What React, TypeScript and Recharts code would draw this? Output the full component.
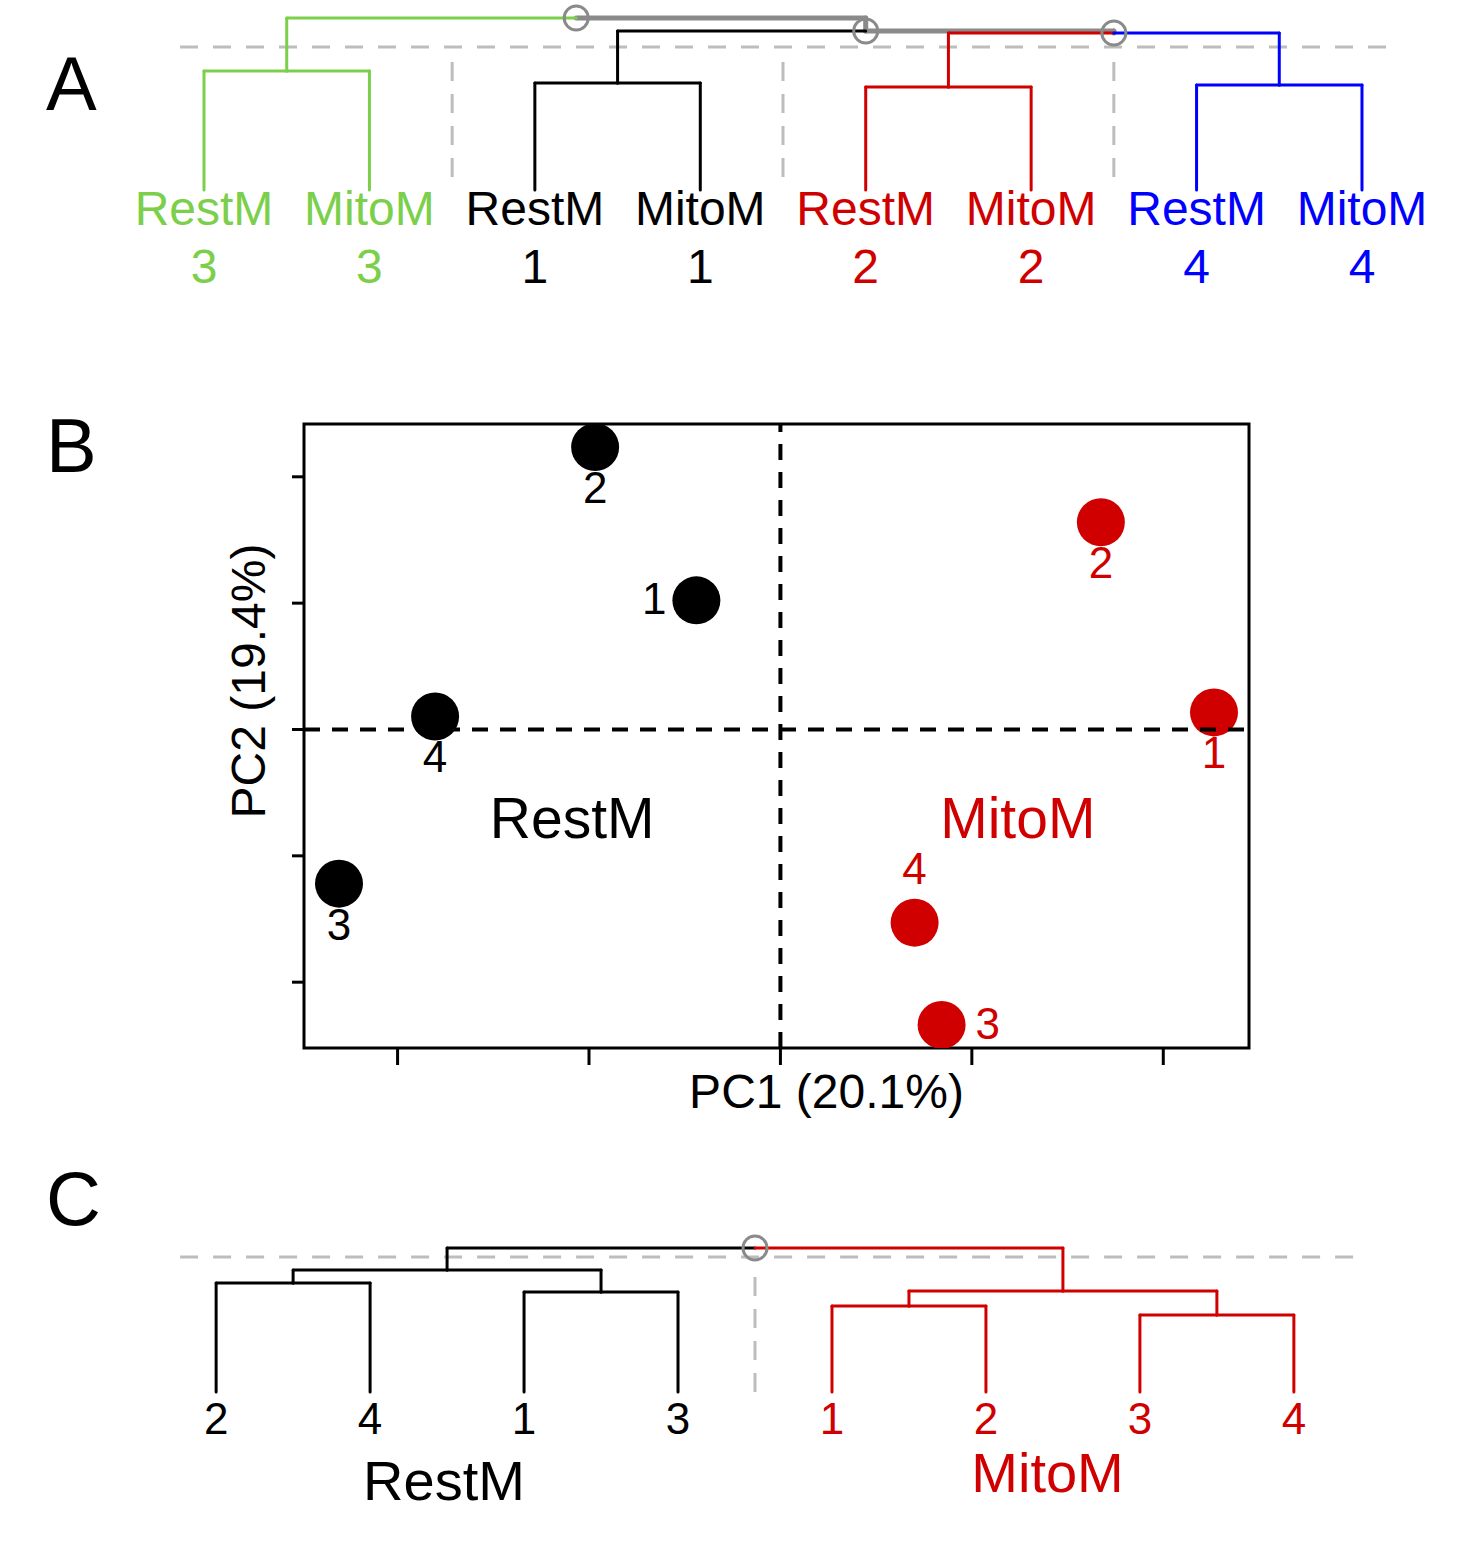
import React from "react";
import {
  ComposedChart,
  XAxis,
  YAxis,
  Scatter,
  ReferenceLine,
  ReferenceDot,
  ReferenceArea,
  Label,
} from "recharts";

const FONT = "'Liberation Sans', Arial, Helvetica, sans-serif";
const GRAY = "#8a8a8a";
const CUT_GRAY = "#bdbdbd";
const RED = "#d00000";

// replicate colours 1..4
const repColors = ["#000000", RED, "#7ccf4a", "#0000ff"];

// ---- A: clustering of all eight samples (leaves left to right)
const leafTypeA = ["RestM", "MitoM", "RestM", "MitoM", "RestM", "MitoM", "RestM", "MitoM"];
const leafRepA = [3, 3, 1, 1, 2, 2, 4, 4];
// hclust style merge table: negative = leaf, positive = earlier merge
const mergeA = [[-1, -2], [-3, -4], [-5, -6], [-7, -8], [3, 4], [2, 5], [1, 6]];
const heightA = [1.19, 1.07, 1.03, 1.05, 1.57, 1.59, 1.72];
const cutA = 1.43;
const cutSpanA = [0.855, 8.16];
const groupGapsA = [2.5, 4.5, 6.5];
const gapSpanA = [0.08, 1.28];

// ---- B: PCA
const reps = [1, 2, 3, 4];
const restPC1 = [-4.39, -9.68, -23.06, -18.04];
const restPC2 = [10.22, 22.35, -12.2, 1.03];
const mitoPC1 = [22.65, 16.74, 8.42, 7.01];
const mitoPC2 = [1.35, 16.4, -23.38, -15.29];
const restLabelSide = ["left", "below", "below", "below"];
const mitoLabelSide = ["below", "below", "right", "above"];
const pcTicks = [-20, -10, 0, 10, 20];
const groupNamesB = ["RestM", "MitoM"];
const groupPC1B = [-10.88, 12.4];
const groupPC2B = [-8.56, -8.56];

// ---- C: clustering within each condition
const leafTypeC = ["RestM", "RestM", "RestM", "RestM", "MitoM", "MitoM", "MitoM", "MitoM"];
const leafRepC = [2, 4, 1, 3, 1, 2, 3, 4];
const mergeC = [[-1, -2], [-3, -4], [1, 2], [-5, -6], [-7, -8], [4, 5], [3, 6]];
const heightC = [1.09, 1.0, 1.22, 0.86, 0.77, 1.01, 1.44];
const cutC = 1.35;
const cutSpanC = [0.766, 8.41];
const groupGapsC = [4.5];
const gapSpanC = [-0.01, 1.15];
const groupNamesC = ["RestM", "MitoM"];
const groupXC = [2.48, 6.4];
const groupYC = [-1.08, -1.0];

const typeColor = (t: string) => (t === "RestM" ? "#000000" : RED);

type Seg = { x1: number; y1: number; x2: number; y2: number; color: string };
type Node = { x: number; y: number; color: string };

function layoutTree(merge: number[][], height: number[], leafColor: string[]) {
  const nodes: Node[] = [];
  const segs: Seg[] = [];
  const pick = (k: number): Node =>
    k < 0 ? { x: -k, y: 0, color: leafColor[-k - 1] } : nodes[k - 1];
  merge.forEach(([a, b], i) => {
    const l = pick(a);
    const r = pick(b);
    const h = height[i];
    const x = (l.x + r.x) / 2;
    [l, r].forEach((c) => {
      segs.push({ x1: c.x, y1: c.y, x2: c.x, y2: h, color: c.color });
      segs.push({ x1: c.x, y1: h, x2: x, y2: h, color: c.color });
    });
    nodes.push({ x, y: h, color: l.color === r.color ? l.color : GRAY });
  });
  // mixed branches first so coloured ones sit on top
  segs.sort((s, t) => (s.color === GRAY ? 0 : 1) - (t.color === GRAY ? 0 : 1));
  return { segs, joins: nodes.filter((n) => n.color === GRAY) };
}

const treeA = layoutTree(mergeA, heightA, leafRepA.map((r) => repColors[r - 1]));
const treeC = layoutTree(mergeC, heightC, leafTypeC.map(typeColor));

const LeafTickA = (props: any) => {
  const { x, y, payload } = props;
  const i = payload.value - 1;
  const c = repColors[leafRepA[i] - 1];
  return (
    <g fontFamily={FONT} fontSize={48} fill={c} textAnchor="middle">
      <text x={x} y={y + 35}>{leafTypeA[i]}</text>
      <text x={x} y={y + 93}>{leafRepA[i]}</text>
    </g>
  );
};

const LeafTickC = (props: any) => {
  const { x, y, payload } = props;
  const i = payload.value - 1;
  return (
    <text x={x} y={y + 42} fontFamily={FONT} fontSize={44} fill={typeColor(leafTypeC[i])} textAnchor="middle">
      {leafRepC[i]}
    </text>
  );
};

const NoTick = () => <g />;

function Dendrogram(props: any) {
  const { width, height, margin, axisHeight, yMax, tree, cut, cutSpan, gaps, gapSpan, tick, leaves, children } = props;
  return (
    <ComposedChart width={width} height={height} margin={margin}>
      <XAxis
        type="number"
        dataKey="x"
        domain={[0.5, leaves + 0.5]}
        allowDataOverflow
        ticks={Array.from({ length: leaves }, (_, i) => i + 1)}
        interval={0}
        height={axisHeight}
        axisLine={false}
        tickLine={false}
        tickSize={0}
        tickMargin={0}
        tick={tick}
      />
      <YAxis type="number" dataKey="y" domain={[0, yMax]} allowDataOverflow hide width={0} />
      <ReferenceLine
        segment={[{ x: cutSpan[0], y: cut }, { x: cutSpan[1], y: cut }]}
        stroke={CUT_GRAY}
        strokeWidth={3}
        strokeDasharray="18 15"
        ifOverflow="visible"
      />
      {gaps.map((g: number) => (
        <ReferenceLine
          key={"gap" + g}
          segment={[{ x: g, y: gapSpan[1] }, { x: g, y: gapSpan[0] }]}
          stroke={CUT_GRAY}
          strokeWidth={3}
          strokeDasharray="19 13"
          ifOverflow="visible"
        />
      ))}
      {tree.segs.map((s: Seg, i: number) => (
        <ReferenceLine
          key={"seg" + i}
          segment={[{ x: s.x1, y: s.y1 }, { x: s.x2, y: s.y2 }]}
          stroke={s.color}
          strokeWidth={s.color === GRAY ? 5 : 3}
          strokeLinecap="round"
          ifOverflow="visible"
        />
      ))}
      <Scatter
        data={tree.joins}
        isAnimationActive={false}
        shape={(p: any) => (
          <circle cx={p.cx} cy={p.cy} r={12} fill="none" stroke={GRAY} strokeWidth={3} />
        )}
      />
      {children}
    </ComposedChart>
  );
}

const padRange = (v: number[]) => {
  const lo = Math.min(...v);
  const hi = Math.max(...v);
  const p = (hi - lo) * 0.04;
  return [lo - p, hi + p];
};

const xDom = padRange([...restPC1, ...mitoPC1]);
const yDom = padRange([...restPC2, ...mitoPC2]);

const restPoints = reps.map((r, i) => ({ pc1: restPC1[i], pc2: restPC2[i], rep: r }));
const mitoPoints = reps.map((r, i) => ({ pc1: mitoPC1[i], pc2: mitoPC2[i], rep: r }));

const makeDot = (color: string, sides: string[]) => (p: any) => {
  const { cx, cy, payload } = p;
  const side = sides[payload.rep - 1];
  let tx = cx;
  let ty = cy + 56;
  let anchor = "middle";
  if (side === "left") {
    tx = cx - 30;
    ty = cy + 14;
    anchor = "end";
  } else if (side === "right") {
    tx = cx + 34;
    ty = cy + 14;
    anchor = "start";
  } else if (side === "above") {
    ty = cy - 39;
  }
  return (
    <g>
      <circle cx={cx} cy={cy} r={24} fill={color} />
      <text x={tx} y={ty} fill={color} fontSize={44} fontFamily={FONT} textAnchor={anchor}>
        {payload.rep}
      </text>
    </g>
  );
};

const groupText = (text: string, color: string, size: number) => (p: any) => (
  <text x={p.viewBox.x} y={p.viewBox.y} fill={color} fontSize={size} fontFamily={FONT} textAnchor="middle">
    {text}
  </text>
);

export default function App() {
  return (
    <div
      style={{
        position: "absolute",
        left: 0,
        top: 0,
        width: 1470,
        height: 1550,
        background: "#fff",
        fontFamily: FONT,
      }}
    >
      {/* A */}
      <div style={{ position: "absolute", left: 0, top: 0 }}>
        <Dendrogram
          width={1470}
          height={300}
          margin={{ top: 0, right: 25.3, bottom: 0, left: 121.3 }}
          axisHeight={110}
          yMax={1.9}
          tree={treeA}
          cut={cutA}
          cutSpan={cutSpanA}
          gaps={groupGapsA}
          gapSpan={gapSpanA}
          leaves={leafTypeA.length}
          tick={(p: any) => <LeafTickA {...p} />}
        />
      </div>

      {/* B */}
      <div style={{ position: "absolute", left: 0, top: 400 }}>
        <ComposedChart width={1300} height={740} margin={{ top: 24, right: 51, bottom: 75, left: 292 }}>
          <XAxis
            type="number"
            dataKey="pc1"
            domain={xDom}
            allowDataOverflow
            ticks={pcTicks}
            interval={0}
            tick={NoTick}
            tickSize={17}
            tickLine={{ stroke: "#000", strokeWidth: 3 }}
            axisLine={false}
            height={17}
          >
            <Label
              content={(p: any) => (
                <text
                  x={p.viewBox.x + p.viewBox.width / 2 + 50}
                  y={p.viewBox.y + p.viewBox.height + 43}
                  fontSize={48}
                  fontFamily={FONT}
                  textAnchor="middle"
                  fill="#000"
                >
                  PC1 (20.1%)
                </text>
              )}
            />
          </XAxis>
          <YAxis
            type="number"
            dataKey="pc2"
            domain={yDom}
            allowDataOverflow
            ticks={pcTicks}
            interval={0}
            tick={NoTick}
            tickSize={12}
            tickLine={{ stroke: "#000", strokeWidth: 3 }}
            axisLine={false}
            width={12}
          >
            <Label
              content={(p: any) => {
                const x = p.viewBox.x - 27;
                const y = p.viewBox.y + p.viewBox.height / 2 - 55;
                return (
                  <text
                    x={x}
                    y={y}
                    transform={`rotate(-90 ${x} ${y})`}
                    fontSize={48}
                    fontFamily={FONT}
                    textAnchor="middle"
                    fill="#000"
                  >
                    PC2 (19.4%)
                  </text>
                );
              }}
            />
          </YAxis>
          <Scatter data={restPoints} isAnimationActive={false} shape={makeDot("#000000", restLabelSide)} />
          <Scatter data={mitoPoints} isAnimationActive={false} shape={makeDot(RED, mitoLabelSide)} />
          <ReferenceLine x={0} stroke="#000" strokeWidth={4} strokeDasharray="16 12" ifOverflow="visible" zIndex={700} />
          <ReferenceLine y={0} stroke="#000" strokeWidth={4} strokeDasharray="16 12" ifOverflow="visible" zIndex={700} />
          <ReferenceArea
            x1={xDom[0]}
            x2={xDom[1]}
            y1={yDom[0]}
            y2={yDom[1]}
            fill="none"
            fillOpacity={0}
            stroke="#000"
            strokeWidth={3}
            ifOverflow="visible"
          />
          {groupNamesB.map((g, i) => (
            <ReferenceDot
              key={g}
              x={groupPC1B[i]}
              y={groupPC2B[i]}
              r={0}
              fill="none"
              stroke="none"
              ifOverflow="visible"
              label={groupText(g, i === 0 ? "#000000" : RED, 57)}
            />
          ))}
        </ComposedChart>
      </div>

      {/* C */}
      <div style={{ position: "absolute", left: 0, top: 1200 }}>
        <Dendrogram
          width={1470}
          height={330}
          margin={{ top: 32, right: 99.15, bottom: 0, left: 139.15 }}
          axisHeight={138}
          yMax={1.6}
          tree={treeC}
          cut={cutC}
          cutSpan={cutSpanC}
          gaps={groupGapsC}
          gapSpan={gapSpanC}
          leaves={leafTypeC.length}
          tick={(p: any) => <LeafTickC {...p} />}
        >
          {groupNamesC.map((g, i) => (
            <ReferenceDot
              key={g}
              x={groupXC[i]}
              y={groupYC[i]}
              r={0}
              fill="none"
              stroke="none"
              ifOverflow="visible"
              label={groupText(g, typeColor(g), 56)}
            />
          ))}
        </Dendrogram>
      </div>

      {/* panel letters */}
      <svg
        width={1470}
        height={1550}
        style={{ position: "absolute", left: 0, top: 0, pointerEvents: "none" }}
      >
        <g fontFamily={FONT} fontSize={76} fill="#000">
          <text x={46} y={110}>A</text>
          <text x={46} y={472}>B</text>
          <text x={46} y={1225}>C</text>
        </g>
      </svg>
    </div>
  );
}
